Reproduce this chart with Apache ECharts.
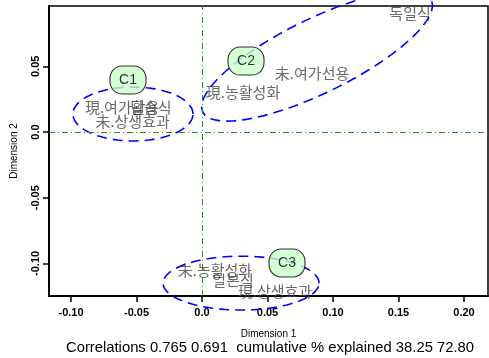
<!DOCTYPE html>
<html><head><meta charset="utf-8">
<script src="https://cdn.jsdelivr.net/npm/echarts@6/dist/echarts.min.js"></script>
<style>html,body{margin:0;padding:0;background:#fff}#c{width:489px;height:358px}</style>
</head><body><div id="c"></div>
<script>
// Category labels (row/column points)
const labelNames = ['독일식','未.여가선용','現.농활성화','現.여가활용','답습식','未.상생효과','未.농활성화','일본식','現.상생효과'];
const labelX = [0.1588, 0.084, 0.0313, -0.061, -0.039, -0.053, 0.0099, 0.0237, 0.0557];
const labelY = [0.0906, 0.0449, 0.0304, 0.019, 0.019, 0.0084, -0.105, -0.113, -0.121];
// Cluster markers
const clusterNames = ['C1','C2','C3'];
const clusterX = [-0.0565, 0.0336, 0.0649];
const clusterY = [0.0396, 0.054, -0.0997];
// Cluster ellipses: centre x, centre y, semi-axis a, semi-axis b, angle (deg)
const ellCx = [-0.0527, 0.0878, 0.0298];
const ellCy = [0.0137, 0.0578, -0.115];
const ellA = [0.0458, 0.097, 0.0595];
const ellB = [0.0205, 0.0282, 0.0205];
const ellAng = [0, 26, 0];
// Tick labels
const xTicks = [-0.10, -0.05, 0.0, 0.05, 0.10, 0.15, 0.20];
const yTicks = [-0.10, -0.05, 0.0, 0.05];
const fmt = v => (Math.abs(v) < 1e-9 ? '0.0' : v.toFixed(2));
const titleText = 'Correlations 0.765 0.691  cumulative % explained 38.25 72.80';

const chart = echarts.init(document.getElementById('c'), null, {renderer: 'canvas'});
const labelData = labelNames.map((n, i) => ({name: n, value: [labelX[i], labelY[i]]}));
const clusterData = clusterNames.map((n, i) => ({name: n, value: [clusterX[i], clusterY[i]]}));
const ellData = ellCx.map((c, i) => [c, ellCy[i], ellA[i], ellB[i], ellAng[i]]);

chart.setOption({
  animation: false,
  grid: {left: 49, top: 6, right: 1, bottom: 62, show: true, borderColor: '#000', borderWidth: 1.5, containLabel: false, outerBoundsMode: 'none'},
  graphic: [{
    type: 'text', x: 270, y: 348,
    style: {text: titleText, textAlign: 'center', textVerticalAlign: 'middle', font: '14.8px "Liberation Sans"', fill: '#000'}
  }],
  xAxis: {
    type: 'value', min: -0.1168, max: 0.2183,
    name: 'Dimension 1', nameLocation: 'middle', nameGap: 33,
    nameTextStyle: {fontFamily: 'Liberation Sans', fontSize: 10, color: '#000'},
    splitLine: {show: false},
    axisLine: {show: true, onZero: false, lineStyle: {color: '#000', width: 2}},
    axisTick: {show: true, length: 6, lineStyle: {color: '#000', width: 1.5}, customValues: xTicks},
    axisLabel: {customValues: xTicks, formatter: fmt, margin: 11, fontFamily: 'Liberation Sans', fontSize: 11, fontWeight: 'bold', color: '#000'}
  },
  yAxis: {
    type: 'value', min: -0.1248, max: 0.0959,
    name: 'Dimension 2', nameLocation: 'middle', nameGap: 30,
    nameTextStyle: {fontFamily: 'Liberation Sans', fontSize: 10, color: '#000'},
    splitLine: {show: false},
    axisLine: {show: true, onZero: false, lineStyle: {color: '#000', width: 2}},
    axisTick: {show: true, length: 6, lineStyle: {color: '#000', width: 1.5}, customValues: yTicks},
    axisLabel: {customValues: yTicks, formatter: fmt, rotate: 90, margin: 8, fontFamily: 'Liberation Sans', fontSize: 11, fontWeight: 'bold', color: '#000', align: 'center', verticalAlign: 'bottom'}
  },
  series: [
    {
      type: 'scatter', data: labelData, symbolSize: 1, itemStyle: {color: 'rgba(0,0,0,0)'},
      label: {show: true, position: 'inside', formatter: p => p.name, fontFamily: 'Noto Sans CJK KR', fontSize: 15, color: '#444'},
      markLine: {
        silent: true, symbol: 'none', label: {show: false},
        lineStyle: {color: '#1a9a1a', width: 1, type: [6, 3, 1, 3]},
        data: [{xAxis: 0}, {yAxis: 0}]
      },
      z: 3
    },
    {
      type: 'custom', coordinateSystem: 'cartesian2d', data: ellData, encode: {x: 0, y: 1}, clip: false, z: 4,
      renderItem: function (params, api) {
        const cx = api.value(0), cy = api.value(1), a = api.value(2), b = api.value(3);
        const th = api.value(4) * Math.PI / 180;
        const pts = [];
        for (let k = 0; k <= 120; k++) {
          const t = k / 120 * 2 * Math.PI;
          const dx = a * Math.cos(t), dy = b * Math.sin(t);
          pts.push(api.coord([cx + dx * Math.cos(th) - dy * Math.sin(th), cy + dx * Math.sin(th) + dy * Math.cos(th)]));
        }
        return {type: 'polyline', shape: {points: pts}, style: {fill: 'none', stroke: '#0000ff', lineWidth: 1.6, lineDash: [10, 6]}};
      }
    },
    {
      type: 'scatter', data: clusterData, z: 5,
      symbol: 'path://M12,0 H24 A12,12 0 0 1 36,12 V15 A12,12 0 0 1 24,27 H12 A12,12 0 0 1 0,15 V12 A12,12 0 0 1 12,0 Z',
      symbolSize: [36, 28],
      itemStyle: {color: '#ccffcc', borderColor: '#000', borderWidth: 1},
      label: {show: true, position: 'inside', formatter: p => p.name, fontFamily: 'Liberation Sans', fontSize: 14, color: '#000'}
    }
  ]
});
</script></body></html>
